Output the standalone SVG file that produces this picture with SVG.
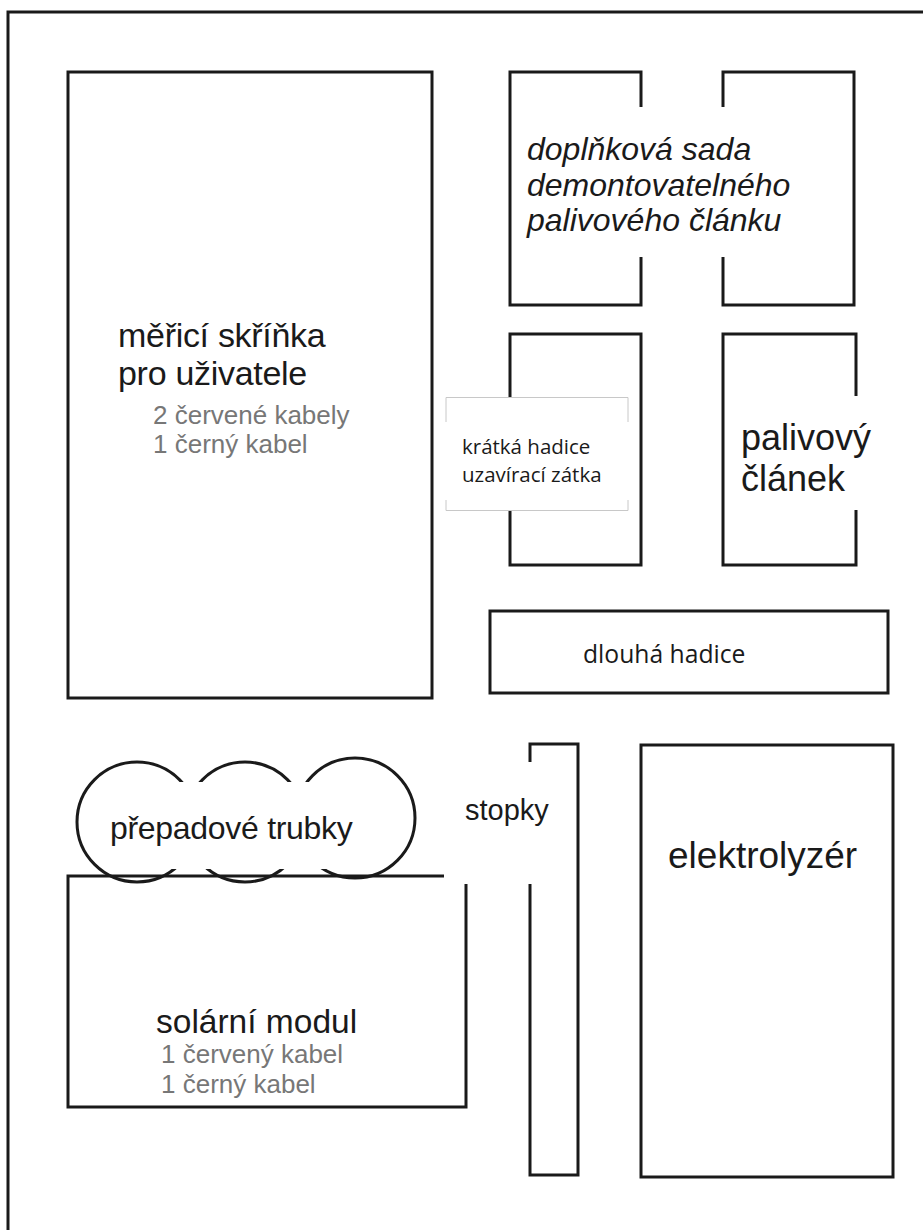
<svg xmlns="http://www.w3.org/2000/svg" width="923" height="1230" viewBox="0 0 923 1230">
<style>
.ln{fill:none;stroke:#1a1a1a;stroke-width:3}
.t{font-family:"Liberation Sans",Arial,sans-serif;fill:#1a1a1a}
.g{font-family:"Liberation Sans",Arial,sans-serif;fill:#777}
.c{font-family:"Open Sans","Noto Sans",sans-serif;fill:#1a1a1a}
</style>
<rect width="923" height="1230" fill="#fff"/>
<g id="frame"><path class="ln" d="M8,1230 V12 H923"/></g>
<g id="merici">
<rect class="ln" x="68" y="72" width="364" height="626"/>
<text class="t" x="118" y="347" font-size="34" letter-spacing="-0.3">měřicí skříňka</text>
<text class="t" x="118" y="385" font-size="34" letter-spacing="-0.3">pro uživatele</text>
<text class="g" x="153" y="424" font-size="26">2 červené kabely</text>
<text class="g" x="153" y="453" font-size="26">1 černý kabel</text>
</g>
<g id="doplnkova">
<path class="ln" d="M641,107 V72 H510 V305 H641 V257"/>
<path class="ln" d="M723,107 V72 H854 V305 H723 V257"/>
<text class="t" x="527" y="160" font-size="32" font-style="italic">doplňková sada</text>
<text class="t" x="527" y="196" font-size="32" font-style="italic">demontovatelného</text>
<text class="t" x="527" y="231" font-size="32" font-style="italic">palivového článku</text>
</g>
<g id="kratka">
<rect class="ln" x="510" y="334" width="131" height="231"/>
<rect x="446" y="397" width="182" height="114" fill="#fff"/>
<path d="M446,422 V397.5 H628 V422 M446,500 V510.5 H628 V500" fill="none" stroke="#c8c8c8" stroke-width="1"/>
<text class="c" x="462" y="454" font-size="20.5">krátká hadice</text>
<text class="c" x="462" y="482" font-size="20.5">uzavírací zátka</text>
</g>
<g id="palivovy">
<path class="ln" d="M856,396 V334 H723 V565 H856 V510"/>
<text class="t" x="741" y="450" font-size="36">palivový</text>
<text class="t" x="741" y="491" font-size="36">článek</text>
</g>
<g id="dlouha">
<rect class="ln" x="490" y="611" width="398" height="82"/>
<text class="c" x="583" y="663" font-size="24.7">dlouhá hadice</text>
</g>
<g id="prepadove">
<circle class="ln" cx="137" cy="822" r="60"/>
<circle class="ln" cx="245" cy="822" r="60"/>
<circle class="ln" cx="355" cy="818" r="60"/>
<rect x="106" y="782" width="278" height="87" fill="#fff"/>
<text class="t" x="110" y="839" font-size="32" letter-spacing="-0.3">přepadové trubky</text>
</g>
<g id="solarni">
<path class="ln" d="M444,876 H68 V1107 H466 V884"/>
<text class="t" x="156" y="1033" font-size="33.5">solární modul</text>
<text class="g" x="161" y="1063" font-size="26">1 červený kabel</text>
<text class="g" x="161" y="1093" font-size="26">1 černý kabel</text>
</g>
<g id="stopky">
<path class="ln" d="M530,762 V744 H578 V1175 H530 V884"/>
<text class="t" x="465" y="820" font-size="29">stopky</text>
</g>
<g id="elektrolyzer">
<rect class="ln" x="641" y="745" width="252" height="432"/>
<text class="t" x="668" y="868" font-size="37">elektrolyzér</text>
</g>
<g id="connectors"></g>
</svg>
